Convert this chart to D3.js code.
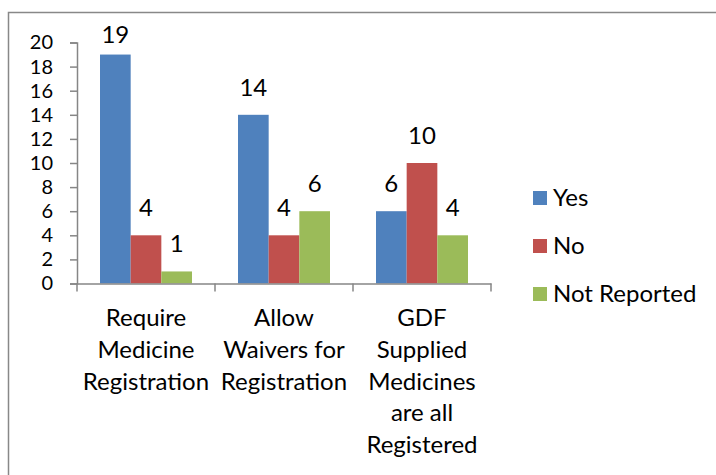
<!DOCTYPE html>
<html><head><meta charset="utf-8">
<script src="https://cdn.jsdelivr.net/npm/d3@7"></script>
<style>body{margin:0;background:#fff;} text{font-family:Lato, "Open Sans", sans-serif;}</style>
</head><body>
<svg id="c" width="716" height="475"></svg>
<script>
const categories = [["Require","Medicine","Registration"],["Allow","Waivers for","Registration"],["GDF","Supplied","Medicines","are all","Registered"]];
const seriesNames = ["Yes","No","Not Reported"];
const yesValues = [19,14,6];
const noValues = [4,4,10];
const notReportedValues = [1,6,4];
const yTicks = [0,2,4,6,8,10,12,14,16,18,20];
const colors = ["#4F81BD","#C0504D","#9BBB59"];

const series = [yesValues,noValues,notReportedValues];
const svg = d3.select("#c");
const fs = 24;
svg.append("rect").attr("x",8.5).attr("y",12.5).attr("width",760).attr("height",500)
  .attr("fill","none").attr("stroke","#888").attr("stroke-width",1.5);

const x0 = d3.scaleBand().domain(d3.range(categories.length)).range([77,491]).paddingInner(0).paddingOuter(0);
const y = d3.scaleLinear().domain([0,20]).range([283.5,42.5]);
const bw = x0.bandwidth()/4.5;
const x1 = d3.scaleBand().domain(d3.range(3)).range([x0.bandwidth()/2-1.5*bw, x0.bandwidth()/2+1.5*bw]);

// axes
const yAxis = d3.axisLeft(y).tickValues(yTicks).tickSize(7).tickPadding(17);
const gy = svg.append("g").attr("transform","translate(77,0)").call(yAxis);
gy.selectAll("path,line").attr("stroke","#868686").attr("stroke-width",1.5);
gy.selectAll("text").attr("font-size",20).attr("fill","#000").attr("font-family","Lato");

const g = svg.append("g");
series.forEach((vals,si)=>{
  g.selectAll(null).data(vals).enter().append("rect")
    .attr("x",(d,i)=>x0(i)+x1(si)).attr("width",x1.bandwidth())
    .attr("y",d=>y(d)).attr("height",d=>y(0)-y(d)).attr("fill",colors[si]);
  g.selectAll(null).data(vals).enter().append("text")
    .attr("x",(d,i)=>x0(i)+x1(si)+x1.bandwidth()/2).attr("y",d=>Math.max(y(d)-19, 42.5))
    .attr("text-anchor","middle").attr("font-size",fs).text(d=>d);
});

const xAxis = d3.axisBottom(x0).tickSize(0).tickFormat("");
const gx = svg.append("g").attr("transform","translate(0,283.5)").call(xAxis);
gx.select("path").attr("stroke","#868686").attr("stroke-width",1.5);
const bounds = [77,...x0.domain().map(i=>x0(i)+x0.bandwidth())];
gx.selectAll(null).data(bounds).enter().append("line")
  .attr("x1",d=>d).attr("x2",d=>d).attr("y1",0).attr("y2",8).attr("stroke","#868686").attr("stroke-width",1.5);

categories.forEach((lines,i)=>{
  const t = svg.append("text").attr("text-anchor","middle").attr("font-size",fs);
  lines.forEach((ln,j)=>t.append("tspan").attr("x",x0(i)+x0.bandwidth()/2).attr("y",326+j*31.8).text(ln));
});

const lg = svg.append("g");
seriesNames.forEach((n,i)=>{
  lg.append("rect").attr("x",533).attr("y",191+i*48).attr("width",14).attr("height",14).attr("fill",colors[i]);
  lg.append("text").attr("x",553).attr("y",206+i*48).attr("font-size",fs).text(n);
});
</script>
</body></html>
